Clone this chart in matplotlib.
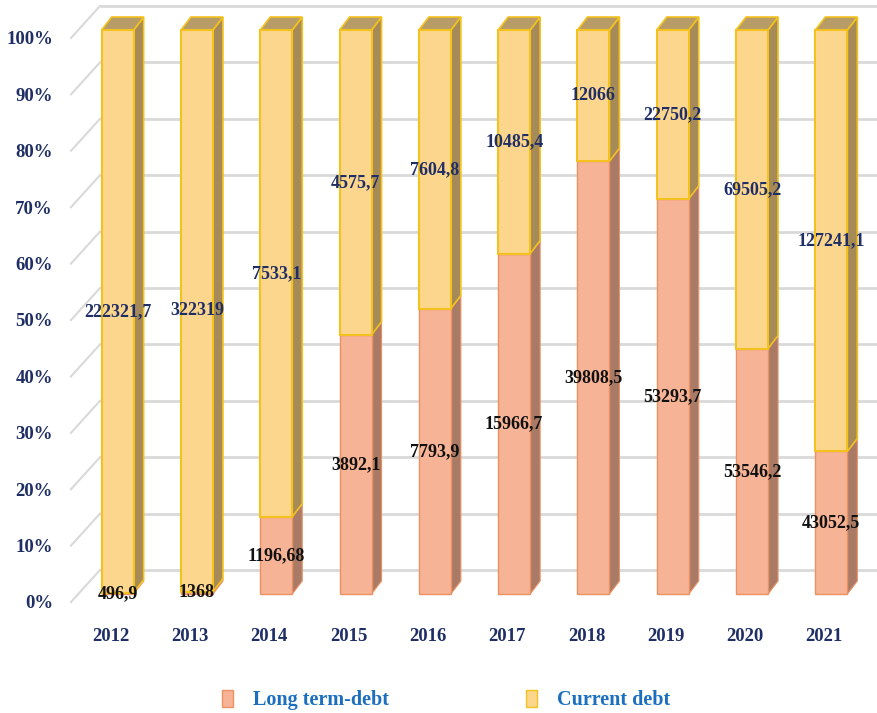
"""
Debt structure 2012-2021: long-term vs current debt,
drawn as a 100% stacked bar chart with a pseudo 3D look.
"""

import numpy as np
import matplotlib.pyplot as plt
from matplotlib.patches import Polygon, Patch

years = ["2012", "2013", "2014", "2015", "2016", "2017", "2018", "2019", "2020", "2021"]
long_term = [496.9, 1368, 1196.68, 3892.1, 7793.9, 15966.7, 39808.5, 53293.7, 53546.2, 43052.5]
current = [222321.7, 322319, 7533.1, 4575.7, 7604.8, 10485.4, 12066, 22750.2, 69505.2, 127241.1]
long_labels = ["496,9", "1368", "1196,68", "3892,1", "7793,9", "15966,7",
               "39808,5", "53293,7", "53546,2", "43052,5"]
current_labels = ["222321,7", "322319", "7533,1", "4575,7", "7604,8", "10485,4",
                  "12066", "22750,2", "69505,2", "127241,1"]
series_names = ["Long term-debt", "Current debt"]

# colours
LONG_FACE, LONG_EDGE, LONG_SIDE = "#F6B396", "#EC9262", "#A97B67"
CUR_FACE, CUR_EDGE, CUR_SIDE, CUR_TOP = "#FDD68E", "#F4C21F", "#A68A58", "#B79C68"
GRID = "#D9D9D9"
NAVY = "#1F2F66"
LEGEND_BLUE = "#1C6FBF"

# layout in pixels (figure is 877 x 713 at dpi 100)
FIG_W, FIG_H = 877, 713
AX_LEFT, AX_RIGHT = 71, 864      # front plane, x
AX_TOP, AX_BOTTOM = 38, 602      # front plane, y (from top)
x_per_px = len(years) / (AX_RIGHT - AX_LEFT)
y_per_px = 100 / (AX_BOTTOM - AX_TOP)

bar_w = 32 * x_per_px
shift_x, shift_y = 7 * x_per_px, 8 * y_per_px       # bars sit a bit into the depth
depth_x, depth_y = 10 * x_per_px, 13 * y_per_px     # depth of the bars
wall_x, wall_y = 29 * x_per_px, 32 * y_per_px       # back wall offset

long_arr = np.array(long_term)
cur_arr = np.array(current)
long_pct = long_arr / (long_arr + cur_arr) * 100
cur_pct = 100 - long_pct
x = np.arange(len(years))

fig = plt.figure(figsize=(FIG_W / 100, FIG_H / 100), dpi=100)
ax = fig.add_axes([AX_LEFT / FIG_W, 1 - AX_BOTTOM / FIG_H,
                   (AX_RIGHT - AX_LEFT) / FIG_W, (AX_BOTTOM - AX_TOP) / FIG_H])
ax.set_xlim(-0.5, len(years) - 0.5)
ax.set_ylim(0, 100)

# back wall gridlines + left wall diagonals
x0 = -0.5
for v in range(0, 101, 10):
    ax.plot([x0 + wall_x, len(years) + 1], [v + wall_y] * 2, color=GRID, lw=2,
            zorder=0, clip_on=False, solid_capstyle="butt")
    ax.plot([x0, x0 + wall_x], [v, v + wall_y], color=GRID, lw=1.5,
            zorder=0, clip_on=False)

# front faces
xb = x + shift_x
ax.bar(xb, long_pct, bottom=shift_y, width=bar_w, color=LONG_FACE,
       edgecolor=LONG_EDGE, lw=1, zorder=3, clip_on=False)
ax.bar(xb, cur_pct, bottom=shift_y + long_pct, width=bar_w, color=CUR_FACE,
       edgecolor=CUR_EDGE, lw=1.5, zorder=3, clip_on=False)

# side and top faces
for i in range(len(years)):
    xr = xb[i] + bar_w / 2
    xl = xb[i] - bar_w / 2
    b0 = shift_y
    b1 = shift_y + long_pct[i]
    b2 = shift_y + 100
    side_long = [(xr, b0), (xr + depth_x, b0 + depth_y), (xr + depth_x, b1 + depth_y), (xr, b1)]
    side_cur = [(xr, b1), (xr + depth_x, b1 + depth_y), (xr + depth_x, b2 + depth_y), (xr, b2)]
    top = [(xl, b2), (xl + depth_x, b2 + depth_y), (xr + depth_x, b2 + depth_y), (xr, b2)]
    ax.add_patch(Polygon(side_long, closed=True, fc=LONG_SIDE, ec=LONG_EDGE, lw=0.8,
                         zorder=2, clip_on=False))
    ax.add_patch(Polygon(side_cur, closed=True, fc=CUR_SIDE, ec=CUR_EDGE, lw=1.2,
                         zorder=2, clip_on=False))
    ax.add_patch(Polygon(top, closed=True, fc=CUR_TOP, ec=CUR_EDGE, lw=1.2,
                         zorder=2, clip_on=False))

    # value labels at the middle of each segment
    ax.text(xb[i], shift_y + long_pct[i] / 2, long_labels[i], ha="center", va="center",
            fontsize=13, fontweight="bold", family="Liberation Serif", color="#111111",
            zorder=5)
    ax.text(xb[i], shift_y + long_pct[i] + cur_pct[i] / 2, current_labels[i],
            ha="center", va="center", fontsize=13, fontweight="bold",
            family="Liberation Serif", color=NAVY, zorder=5)

ax.set_yticks(range(0, 101, 10))
ax.set_yticklabels([f"{v}%" for v in range(0, 101, 10)])
ax.set_xticks(x)
ax.set_xticklabels(years)
ax.tick_params(axis="y", length=0, pad=13)
ax.tick_params(axis="x", length=0, pad=19)
for lab in ax.get_xticklabels() + ax.get_yticklabels():
    lab.set_family("Liberation Serif")
    lab.set_fontweight("bold")
    lab.set_fontsize(13.5)
    lab.set_color(NAVY)
for s in ax.spines.values():
    s.set_visible(False)
ax.patch.set_alpha(0)

handles = [Patch(fc=LONG_FACE, ec=LONG_EDGE), Patch(fc=CUR_FACE, ec=CUR_EDGE)]
fig.legend(handles, series_names, loc="center", bbox_to_anchor=(0.509, 0.018), ncol=2,
           frameon=False, columnspacing=6.8, handlelength=0.55, handleheight=0.9,
           handletextpad=1.0, labelcolor=LEGEND_BLUE,
           prop={"family": "Liberation Serif", "weight": "bold", "size": 14.5})

fig.savefig("out.png", dpi=100)
